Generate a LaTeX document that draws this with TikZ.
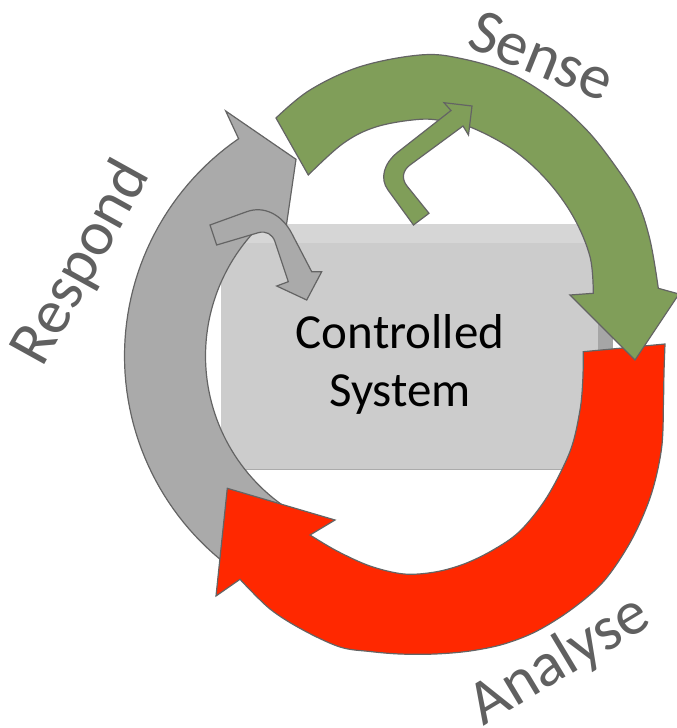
\documentclass[tikz,border=0pt]{standalone}
\usepackage{fontspec}
\setmainfont{Carlito}
\definecolor{ringgreen}{RGB}{128,158,89}
\definecolor{ringred}{RGB}{255,40,0}
\definecolor{ringgray}{RGB}{170,170,170}
\definecolor{edgegray}{RGB}{100,100,100}
\definecolor{boxface}{RGB}{204,204,204}
\definecolor{boxtop}{RGB}{214,214,214}
\definecolor{boxside}{RGB}{166,166,166}
\definecolor{labelgray}{RGB}{96,96,96}
\begin{document}
\begin{tikzpicture}[x=1pt,y=-1pt,
  arrowshape/.style={draw=edgegray, line width=1.2pt, line join=miter},
  lbl/.style={text=labelgray, font=\fontsize{63}{75}\selectfont, inner sep=0pt},
  sysbox/.style={fill=boxface, minimum width=377pt, minimum height=245pt, inner sep=0pt, anchor=north west},
  systext/.style={font=\fontsize{49}{58}\selectfont, align=center, inner sep=0pt}]
\useasboundingbox (0,0) rectangle (677,728);
\clip (0,0) rectangle (677,728);
% controlled system box
\node[sysbox] (box) at (221,224) {};
\fill[boxtop] (box.north west) rectangle ([yshift=-19pt]box.north east);
\fill[boxside] ([yshift=-19pt]box.north east) rectangle ([xshift=15pt]box.south east);
\draw[boxtop!80!black, line width=0.6pt] (box.south west) -- (box.south east);
\node[systext] (system) at (400,364) {Controlled\\System};
% Respond (gray)
\filldraw[arrowshape, fill=ringgray]
  plot[domain=126:235.4, samples=60, variable=\t] ({388.5+264*cos(\t)},{356+264*sin(\t)})
  -- (225.7,111) -- (296,159.3) -- (286,228)
  -- plot[domain=228:122, samples=60, variable=\t] ({388.5+183*cos(\t)},{356+183*sin(\t)})
  -- cycle;
\filldraw[arrowshape, fill=ringgray] (210,225) -- (246.7,211.7)
  .. controls (263.7,205.5) and (281.7,214.2) .. (291.7,233.3)
  -- (311.7,271.7) -- (321.7,271.7) -- (306.7,300) -- (276.7,286) -- (288.3,281.7) -- (275,241.7)
  .. controls (272.5,234.1) and (265.8,230.5) .. (258.3,232.7)
  -- (216.7,245) -- cycle;
% Analyse (red)
\filldraw[arrowshape, fill=ringred]
  (583.3,351.7) -- plot[smooth, tension=0.55] coordinates {(665,344) (664,372) (663.5,400) (661.6,448) (651,495) (631.5,540) (604,581) (572,609) (537,631) (504,644) (470,651) (435,654) (400,654) (370,651.5) (340,647) (303,630) (270,609) (240,579.3)}
  -- (216,596) -- (227.3,488.3) -- (335,520)
  -- plot[smooth, tension=0.55] coordinates {(310,535) (337,551) (370,566) (404,574) (435,572) (464,564) (493,550) (520,531) (547,497) (570.3,450.7) (580,410) (582.8,380) (583.3,351.7)}
  -- cycle;
% Sense (green)
\filldraw[arrowshape, fill=ringgreen]
  (308.3,175) -- plot[smooth, tension=0.6] coordinates {(276,118) (310,90) (360,66.7) (420,55) (460,58.3) (510,73.3) (553.3,100) (586.7,130) (613.3,163.3) (636.7,200) (650,240) (658.3,288.3)}
  -- (679,294) -- (635,360) -- (570,295)
  -- plot[smooth, tension=0.6] coordinates {(593.3,293.3) (590,256.7) (573.3,216.7) (546.7,180) (513.3,150) (473.3,128.3) (446.7,121.7) (420,119.3) (376.7,126.7) (343.3,143.3) (308.3,175)}
  -- cycle;
\filldraw[arrowshape, fill=ringgreen] (413.5,225) -- (388,190)
  .. controls (379.6,178.6) and (383.6,163.4) .. (398,152)
  -- (451,110.5) -- (444,102.7) -- (472,106) -- (468.5,135) -- (463,126) -- (410,165)
  .. controls (402.5,170.5) and (401.3,178.9) .. (407,186)
  -- (429,213.3) -- cycle;
% labels
\node[lbl, rotate=-22] (sense) at (542,56) {Sense};
\node[lbl, rotate=61] (respond) at (82,263) {Respond};
\node[lbl, rotate=31] (analyse) at (560,661) {Analyse};
\end{tikzpicture}
\end{document}
